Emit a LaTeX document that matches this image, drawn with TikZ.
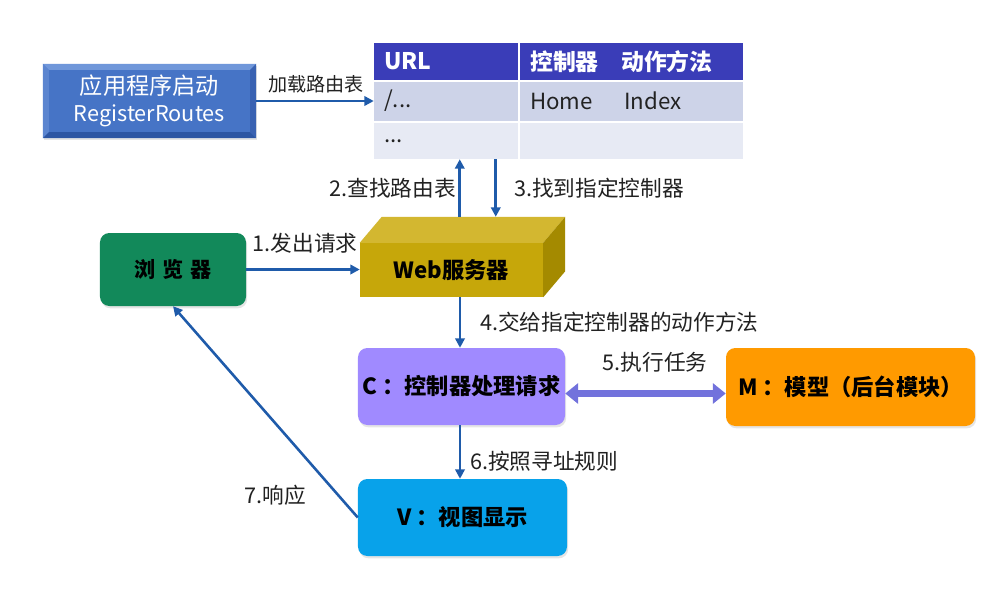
\documentclass[tikz,border=0pt]{standalone}
\usepackage{fontspec}
\setmainfont{Noto Sans CJK SC}
\usetikzlibrary{arrows.meta,calc,shadows}
\definecolor{arrowblue}{HTML}{1F5BAA}
\definecolor{appblue}{HTML}{4674C6}
\definecolor{appLight}{HTML}{7097DA}
\definecolor{appMid}{HTML}{5B85D0}
\definecolor{appDark}{HTML}{2D56A3}
\definecolor{appDark2}{HTML}{3962B2}
\definecolor{hdrblue}{HTML}{3A3DB8}
\definecolor{rowA}{HTML}{CDD3E8}
\definecolor{rowB}{HTML}{E7EAF4}
\definecolor{browsergreen}{HTML}{12895A}
\definecolor{webfront}{HTML}{C6A70A}
\definecolor{webtop}{HTML}{D3B730}
\definecolor{webside}{HTML}{A48A00}
\definecolor{ctrlpurple}{HTML}{A08AFF}
\definecolor{modelorange}{HTML}{FF9A00}
\definecolor{viewblue}{HTML}{08A2EA}
\definecolor{dblarrow}{HTML}{7272DC}
\definecolor{labelgrey}{HTML}{222222}
\tikzset{
  arr/.style={draw=arrowblue, line width=2.2pt, -{Triangle[length=8pt,width=8pt]}},
  lbl/.style={text=labelgrey, font=\fontsize{18.5}{21}\selectfont, inner sep=0pt},
  roundbox/.style={rounded corners=8pt, inner sep=0pt, font=\fontsize{19}{22}\selectfont\bfseries, text=black,
     drop shadow={opacity=0.2, shadow xshift=1pt, shadow yshift=-2pt}},
  celltxt/.style={text=labelgrey, font=\fontsize{19}{22}\selectfont, inner sep=0pt, anchor=west},
  hdrtxt/.style={text=white, font=\fontsize{19.5}{22}\selectfont\bfseries, inner sep=0pt, anchor=west}
}
\begin{document}
\begin{tikzpicture}[x=0.03cm,y=-0.03cm]
\useasboundingbox[fill=white] (0,0) rectangle (999,611);

% ---------- application box (bevelled)
\node[fill=appblue, minimum width=6.39cm, minimum height=2.22cm, inner sep=0pt,
      drop shadow={opacity=0.2, shadow xshift=1pt, shadow yshift=-2pt}] (app) at (149.5,101) {};
\fill[appLight] (app.north west) -- (app.north east) -- ($(app.north east)+(-6,6)$) -- ($(app.north west)+(6,6)$) -- cycle;
\fill[appMid] (app.north west) -- ($(app.north west)+(6,6)$) -- ($(app.south west)+(6,-6)$) -- (app.south west) -- cycle;
\fill[appDark] (app.south west) -- (app.south east) -- ($(app.south east)+(-6,-6)$) -- ($(app.south west)+(6,-6)$) -- cycle;
\fill[appDark2] (app.north east) -- ($(app.north east)+(-6,6)$) -- ($(app.south east)+(-6,-6)$) -- (app.south east) -- cycle;
\node[text=white, font=\fontsize{18.5}{23}\selectfont, align=center] (apptxt) at (app.center) {{\fontsize{19.8}{23}\selectfont 应用程序启动}\\RegisterRoutes};

% ---------- routing table
\node[inner sep=0pt, minimum width=11.07cm, minimum height=3.48cm] (tbl) at (558.5,101) {};
\fill[hdrblue] (374,43) rectangle (743,80);
\fill[rowA] (374,82) rectangle (743,121);
\fill[rowB] (374,123) rectangle (743,159);
\draw[white, line width=1.2pt] (519,43) -- (519,159);
\node[hdrtxt] (hurl) at (384,61.5) {URL};
\node[hdrtxt] (hctl) at (530,61.5) {控制器};
\node[hdrtxt] (hact) at (621,61.5) {动作方法};
\node[celltxt] (c11) at (384,101) {/...};
\node[celltxt] (c12) at (530,101) {Home};
\node[celltxt] (c13) at (624,101) {Index};
\node[celltxt] (c21) at (384,141) {...};

\draw[arr] (app.east) -- (tbl.west |- app.east);
\node[lbl, font=\fontsize{16.3}{19}\selectfont] (l0) at (316,84) {加载路由表};

% ---------- browser
\node[roundbox, fill=browsergreen, minimum width=4.38cm, minimum height=2.19cm, font=\fontsize{18}{21}\selectfont\bfseries] (browser) at (173,269.5) {浏\,\,览\,\,器};

% ---------- web server (3D box)
\node[fill=webfront, minimum width=5.49cm, minimum height=1.62cm, inner sep=0pt] (web) at (451.5,270) {};
\fill[webtop] (web.north west) -- ($(web.north west)+(22,-26)$) -- ($(web.north east)+(22,-26)$) -- (web.north east) -- cycle;
\fill[webside] (web.north east) -- ($(web.north east)+(22,-26)$) -- ($(web.south east)+(22,-26)$) -- (web.south east) -- cycle;
\node[font=\fontsize{19}{22}\selectfont\bfseries, text=black] (webtxt) at (web.center) {Web服务器};
\coordinate (w2) at ($(web.north west)+(100,-26)$);
\coordinate (w3) at ($(web.north west)+(136,-26)$);

\draw[arr] (w2) -- (tbl.south -| w2);
\draw[arr] (tbl.south -| w3) -- (w3);
\node[lbl, anchor=east] (l2) at (456,188) {2.查找路由表};
\node[lbl, anchor=west] (l3) at (514,188) {3.找到指定控制器};

\draw[arr] (browser.east) -- (web.west |- browser.east);
\node[lbl] (l1) at (305,243) {1.发出请求};

% ---------- controller, model, view
\node[roundbox, fill=ctrlpurple, minimum width=6.21cm, minimum height=2.31cm] (ctrl) at (461.5,386.5) {C ：控制器处理请求};
\node[roundbox, fill=modelorange, minimum width=7.47cm, minimum height=2.34cm] (model) at (850.5,387) {M ：模型（后台模块）};
\node[roundbox, fill=viewblue, minimum width=6.27cm, minimum height=2.31cm] (view) at (462.5,517.5) {V ：视图显示};

\coordinate (w4) at (460,0);
\draw[arr] (web.south -| w4) -- (ctrl.north -| w4);
\node[lbl, anchor=west] (l4) at (480,322) {4.交给指定控制器的动作方法};

\draw[draw=dblarrow, line width=6pt, {Triangle[length=11pt,width=17pt]}-{Triangle[length=11pt,width=17pt]}] ($(ctrl.east)+(0,7)$) -- ($(model.west)+(0,6.5)$);
\node[lbl] (l5) at (655,362) {5.执行任务};

\draw[arr] (ctrl.south -| w4) -- (view.north -| w4);
\node[lbl, anchor=west] (l6) at (470,461) {6.按照寻址规则};

\draw[arr] (view.west) -- (browser.south);
\node[lbl] (l7) at (275,495) {7.响应};
\end{tikzpicture}
\end{document}
